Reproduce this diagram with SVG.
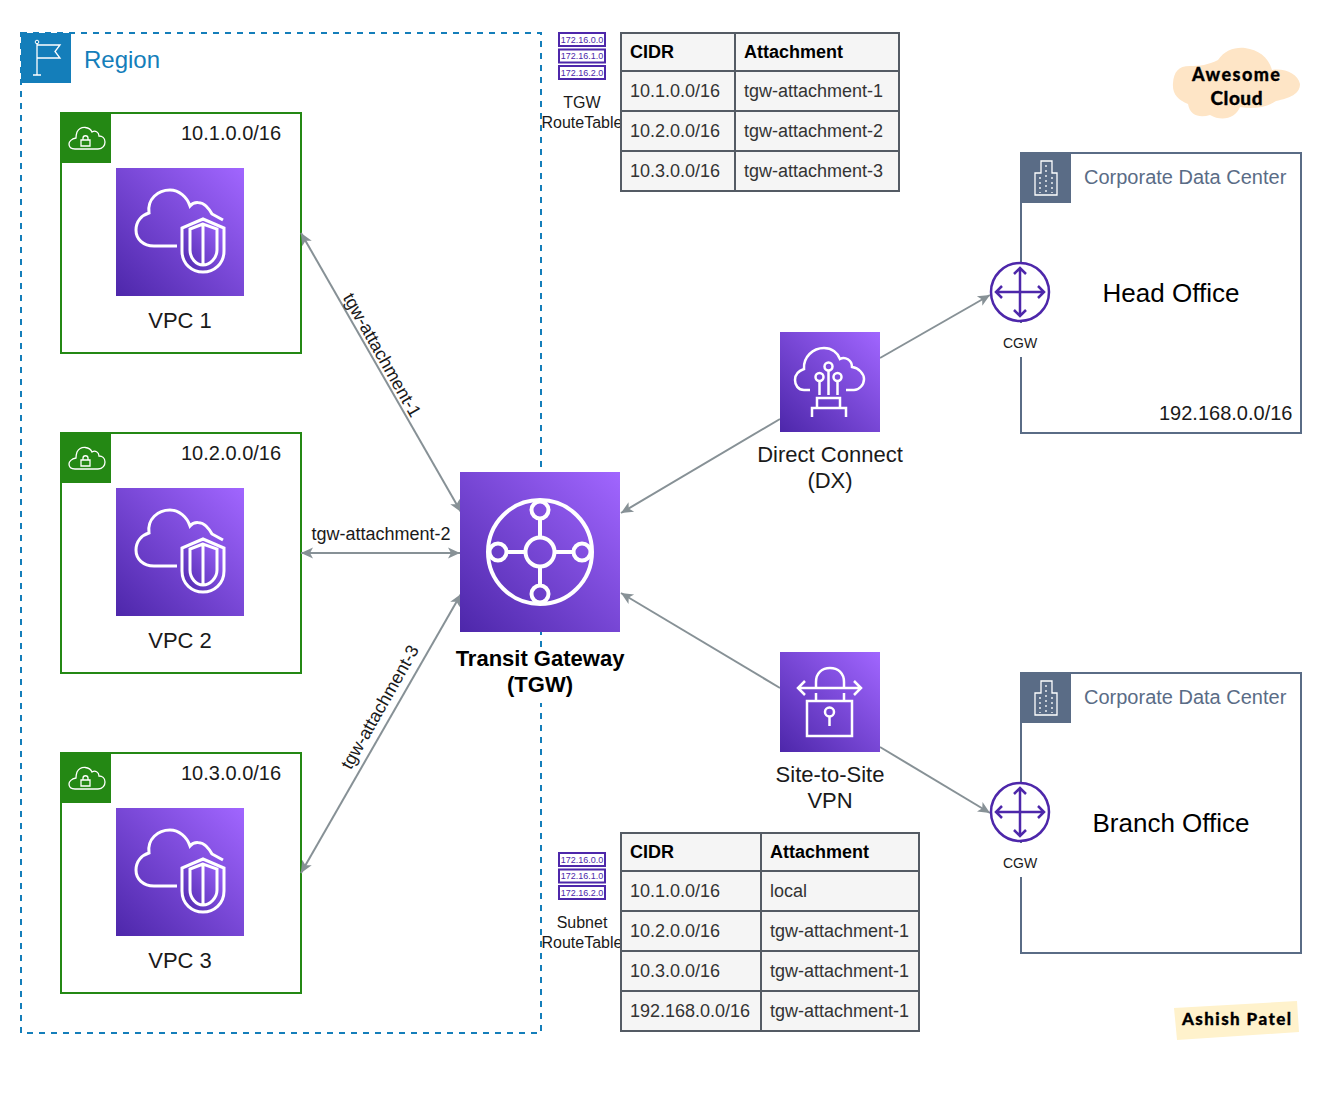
<svg xmlns="http://www.w3.org/2000/svg" xmlns:xlink="http://www.w3.org/1999/xlink" width="1326" height="1108" viewBox="0 0 1326 1108">
<style>
text{font-family:"Liberation Sans",Arial,sans-serif;fill:#1a1a1a}
.c{text-anchor:middle}
.s20{font-size:20px}.s22{font-size:22px}.s18{font-size:18px}.s16{font-size:16px}
.b{font-weight:bold;fill:#000}
.w{fill:none;stroke:#fff;stroke-width:2.500}
.edge{fill:none;stroke:#879196;stroke-width:2}
.cell{fill:#F5F5F5;stroke:#545B64;stroke-width:2}
.grid{fill:none;stroke:#545B64;stroke-width:2}
.t{fill:#333}
.rt{fill:#fff;stroke:#4D27AA;stroke-width:2}
.ip{font-size:9px;fill:#4D27AA;text-anchor:middle}
.vpc{fill:#fff;stroke:#248814;stroke-width:2}
.corp{fill:#fff;stroke:#5A6C86;stroke-width:2}
.hand{font-family:Lato,"Open Sans",sans-serif;font-weight:900;fill:#000;stroke:#000;stroke-width:.3;stroke-linejoin:round}
</style>
<defs>
<linearGradient id="pg" x1="0" y1="1" x2="1" y2="0"><stop offset="0" stop-color="#4D27AA"/><stop offset="1" stop-color="#A166FF"/></linearGradient>
<marker id="ah" markerUnits="userSpaceOnUse" markerWidth="13" markerHeight="13" refX="12" refY="6.500" orient="auto-start-reverse" viewBox="0 0 13 13"><path d="M0 1L12 6.500L0 12L3 6.500Z" fill="#879196"/></marker>
<g id="vpcIcon">
<rect width="128" height="128" fill="url(#pg)"/>
<path class="w" style="stroke-width:3" d="M61 78H38C27 78 20 71 20 62C20 53 26 47 33 45C31 31 42 22 54 22C63 22 71 29 74 38C78 33 86 34 90 38C93 41 95 44 96 46L107 52"/>
<path class="w" style="stroke-width:3;fill:url(#pg)" d="M87 51L66 60V83C66 96 76 104 87 104C98 104 108 96 108 83V60Z"/>
<path class="w" style="stroke-width:3" d="M87 56L74 61V82C74 90 80 97 87 97C94 97 101 90 101 82V61ZM87 56V97"/>
</g>
<g id="vpcTag">
<rect width="50" height="50" fill="#248814"/>
<path class="w" style="stroke-width:1.300" d="M14 36H37C42 36 44 32 44 29C44 25 41 23 38 23C38 19 34 17 31 19C29 14 20 12 16 19C15 22 15 24 15 25C10 26 8 29 8 31C8 34 10 36 14 36Z"/>
<path class="w" style="stroke-width:1.300" d="M20 27H29V33H20ZM22 27V25C22 22 27 22 27 25V27"/>
</g>
<g id="corpTag">
<rect width="50" height="50" fill="#5A6C86"/>
<path fill="none" stroke="#fff" stroke-width="1.300" d="M14 20H20V8H31V20H36V42H14Z"/>
<path fill="none" stroke="#fff" stroke-width="1.300" stroke-dasharray="2 3" d="M19 24V40M25 12V40M31 24V40"/>
</g>
<g id="cgwIcon">
<circle r="29" fill="#fff" stroke="#4D27AA" stroke-width="2.500"/>
<path fill="none" stroke="#4D27AA" stroke-width="2.500" d="M0 -24V24M-24 0H24M-6 -18L0 -24L6 -18M-6 18L0 24L6 18M-18 -6L-24 0L-18 6M18 -6L24 0L18 6"/>
</g>
<g id="rtIcon">
<rect x="559" y="33" width="46" height="13" class="rt"/><rect x="559" y="49.500" width="46" height="13" class="rt"/><rect x="559" y="66" width="46" height="13" class="rt"/>
<text class="ip" x="582" y="43">172.16.0.0</text><text class="ip" x="582" y="59">172.16.1.0</text><text class="ip" x="582" y="76">172.16.2.0</text>
</g>
</defs>
<rect width="1326" height="1108" fill="#fff"/>

<g id="region">
<rect x="21" y="33" width="520" height="1000" fill="none" stroke="#147EBA" stroke-width="2" stroke-dasharray="6 6"/>
<rect x="21" y="33" width="50" height="50" fill="#147EBA"/>
<path fill="none" stroke="#fff" stroke-width="1.300" d="M37 43V75M33 75H41M37 45H60L55 51.500L60 58H37"/>
<circle cx="37" cy="42" r="1.800" fill="none" stroke="#fff"/>
<text x="84" y="68" style="font-size:24px;fill:#147EBA">Region</text>
</g>

<g id="vpc1">
<rect x="61" y="113" width="240" height="240" class="vpc"/><use xlink:href="#vpcTag" href="#vpcTag" x="61" y="113"/><use xlink:href="#vpcIcon" href="#vpcIcon" x="116" y="168"/>
<text x="181" y="140" class="s20">10.1.0.0/16</text><text x="180" y="328" class="s22 c">VPC 1</text>
</g>
<g id="vpc2">
<rect x="61" y="433" width="240" height="240" class="vpc"/><use xlink:href="#vpcTag" href="#vpcTag" x="61" y="433"/><use xlink:href="#vpcIcon" href="#vpcIcon" x="116" y="488"/>
<text x="181" y="460" class="s20">10.2.0.0/16</text><text x="180" y="648" class="s22 c">VPC 2</text>
</g>
<g id="vpc3">
<rect x="61" y="753" width="240" height="240" class="vpc"/><use xlink:href="#vpcTag" href="#vpcTag" x="61" y="753"/><use xlink:href="#vpcIcon" href="#vpcIcon" x="116" y="808"/>
<text x="181" y="780" class="s20">10.3.0.0/16</text><text x="180" y="968" class="s22 c">VPC 3</text>
</g>

<g id="head-office">
<rect x="1021" y="153" width="280" height="280" class="corp"/><use xlink:href="#corpTag" href="#corpTag" x="1021" y="153"/>
<text x="1084" y="184" class="s20" style="fill:#5A6C86">Corporate Data Center</text>
<text x="1171" y="302" class="c" style="font-size:26px;fill:#000">Head Office</text>
<text x="1159" y="420" class="s20">192.168.0.0/16</text>
</g>
<g id="branch-office">
<rect x="1021" y="673" width="280" height="280" class="corp"/><use xlink:href="#corpTag" href="#corpTag" x="1021" y="673"/>
<text x="1084" y="704" class="s20" style="fill:#5A6C86">Corporate Data Center</text>
<text x="1171" y="832" class="c" style="font-size:26px;fill:#000">Branch Office</text>
</g>

<g id="connectors">
<line class="edge" x1="301" y1="233" x2="461" y2="512" marker-start="url(#ah)" marker-end="url(#ah)"/>
<line class="edge" x1="301" y1="553" x2="460" y2="553" marker-start="url(#ah)" marker-end="url(#ah)"/>
<line class="edge" x1="301" y1="873" x2="461" y2="594" marker-start="url(#ah)" marker-end="url(#ah)"/>
<line class="edge" x1="780" y1="419" x2="621" y2="513" marker-end="url(#ah)"/>
<line class="edge" x1="880" y1="358" x2="990" y2="295" marker-end="url(#ah)"/>
<line class="edge" x1="780" y1="688" x2="621" y2="593" marker-end="url(#ah)"/>
<line class="edge" x1="880" y1="747" x2="990" y2="813" marker-end="url(#ah)"/>
<text class="s18 c" transform="translate(382 355) rotate(60.400)" y="6">tgw-attachment-1</text>
<text class="s18 c" x="381" y="540">tgw-attachment-2</text>
<text class="s18 c" transform="translate(380 707) rotate(-60.400)" y="6">tgw-attachment-3</text>
</g>

<g id="tgw">
<rect x="460" y="472" width="160" height="160" fill="url(#pg)"/>
<g fill="none" stroke="#fff" stroke-width="4">
<circle cx="540" cy="552" r="52"/>
<circle cx="540" cy="552" r="14.500"/>
<circle cx="540" cy="510" r="8.500"/><circle cx="540" cy="594" r="8.500"/><circle cx="498" cy="552" r="8.500"/><circle cx="582" cy="552" r="8.500"/>
<path d="M540 518.500V537.500M540 566.500V585.500M506.500 552H525.500M554.500 552H573.500"/>
</g>
<rect x="455" y="648" width="172" height="55" fill="#fff"/>
<text x="540" y="666" class="s22 c b">Transit Gateway</text><text x="540" y="692" class="s22 c b">(TGW)</text>
</g>

<g id="dx">
<rect x="780" y="332" width="100" height="100" fill="url(#pg)"/>
<g transform="translate(780 332)">
<path class="w" d="M30 58H24C18 58 15 53 15 48C15 43 18 39 24 37C23 25 33 16 44 16C52 16 58 21 60 27C65 24 72 28 72 35C79 36 84 42 84 47C84 53 79 58 74 58H66"/>
<circle class="w" cx="48.500" cy="34.500" r="4"/><circle class="w" cx="39.500" cy="45" r="4"/><circle class="w" cx="57.500" cy="45" r="4"/>
<path class="w" d="M48.500 38.500V63M39.500 49V63M57.500 49V63M37 76V66H60V76M32 85V76H66V85"/>
</g>
<text x="830" y="462" class="s22 c">Direct Connect</text><text x="830" y="488" class="s22 c">(DX)</text>
</g>

<g id="vpn">
<rect x="780" y="652" width="100" height="100" fill="url(#pg)"/>
<g transform="translate(780 652)">
<path class="w" d="M18 36H81M25 29L18 36L25 43M74 29L81 36L74 43M36 36V30C36 21 42 16 50 16C58 16 64 21 64 30V36M36 41V49M64 41V49"/>
<rect class="w" x="27" y="49" width="45" height="35"/>
<circle class="w" cx="49.500" cy="60" r="4.500"/><path class="w" d="M49.500 64.500V74"/>
</g>
<text x="830" y="782" class="s22 c">Site-to-Site</text><text x="830" y="808" class="s22 c">VPN</text>
</g>

<g id="cgw1">
<use xlink:href="#cgwIcon" href="#cgwIcon" x="1020" y="292"/>
<rect x="1003" y="323" width="36" height="34" fill="#fff"/>
<text x="1020" y="348" class="c" style="font-size:14px">CGW</text>
</g>
<g id="cgw2">
<use xlink:href="#cgwIcon" href="#cgwIcon" x="1020" y="812"/>
<rect x="1003" y="843" width="36" height="34" fill="#fff"/>
<text x="1020" y="868" class="c" style="font-size:14px">CGW</text>
</g>

<g id="tgw-route-table">
<use xlink:href="#rtIcon" href="#rtIcon"/>
<text x="582" y="108" class="s16 c">TGW</text><text x="582" y="128" class="s16 c">RouteTable</text>
<rect x="621" y="33" width="278" height="158" class="cell"/>
<path class="grid" d="M621 71H899M621 111H899M621 151H899M735 33V191"/>
<text x="630" y="58" class="s18 b">CIDR</text><text x="744" y="58" class="s18 b">Attachment</text>
<text x="630" y="96.500" class="s18 t">10.1.0.0/16</text><text x="744" y="96.500" class="s18 t">tgw-attachment-1</text>
<text x="630" y="136.500" class="s18 t">10.2.0.0/16</text><text x="744" y="136.500" class="s18 t">tgw-attachment-2</text>
<text x="630" y="176.500" class="s18 t">10.3.0.0/16</text><text x="744" y="176.500" class="s18 t">tgw-attachment-3</text>
</g>

<g id="subnet-route-table">
<use xlink:href="#rtIcon" href="#rtIcon" y="820"/>
<text x="582" y="928" class="s16 c">Subnet</text><text x="582" y="948" class="s16 c">RouteTable</text>
<rect x="621" y="833" width="298" height="198" class="cell"/>
<path class="grid" d="M621 871H919M621 911H919M621 951H919M621 991H919M761 833V1031"/>
<text x="630" y="858" class="s18 b">CIDR</text><text x="770" y="858" class="s18 b">Attachment</text>
<text x="630" y="896.500" class="s18 t">10.1.0.0/16</text><text x="770" y="896.500" class="s18 t">local</text>
<text x="630" y="936.500" class="s18 t">10.2.0.0/16</text><text x="770" y="936.500" class="s18 t">tgw-attachment-1</text>
<text x="630" y="976.500" class="s18 t">10.3.0.0/16</text><text x="770" y="976.500" class="s18 t">tgw-attachment-1</text>
<text x="630" y="1016.500" class="s18 t">192.168.0.0/16</text><text x="770" y="1016.500" class="s18 t">tgw-attachment-1</text>
</g>

<g id="awesome-cloud">
<path fill="#FEE5C6" d="M1173 83C1174 72 1178 66 1190 66C1200 66 1208 65 1218 60C1225 50 1235 47 1245 48C1258 50 1268 56 1272 70C1285 68 1298 74 1300 84C1300 94 1290 98 1276 101C1266 108 1252 109 1240 107C1236 118 1222 122 1210 115C1200 118 1190 116 1188 104C1178 100 1172 94 1173 83Z"/>
<text x="1236" y="81" class="hand c" style="font-size:18px" textLength="88">Awesome</text>
<text x="1236.500" y="105" class="hand c" style="font-size:19px" textLength="52">Cloud</text>
</g>
<g id="ashish-patel">
<path fill="#FFF2CC" d="M1174 1008L1297 1001L1299 1032L1177 1040Z"/>
<text x="1236.500" y="1025" class="hand c" style="font-size:17px" textLength="109">Ashish Patel</text>
</g>
</svg>
